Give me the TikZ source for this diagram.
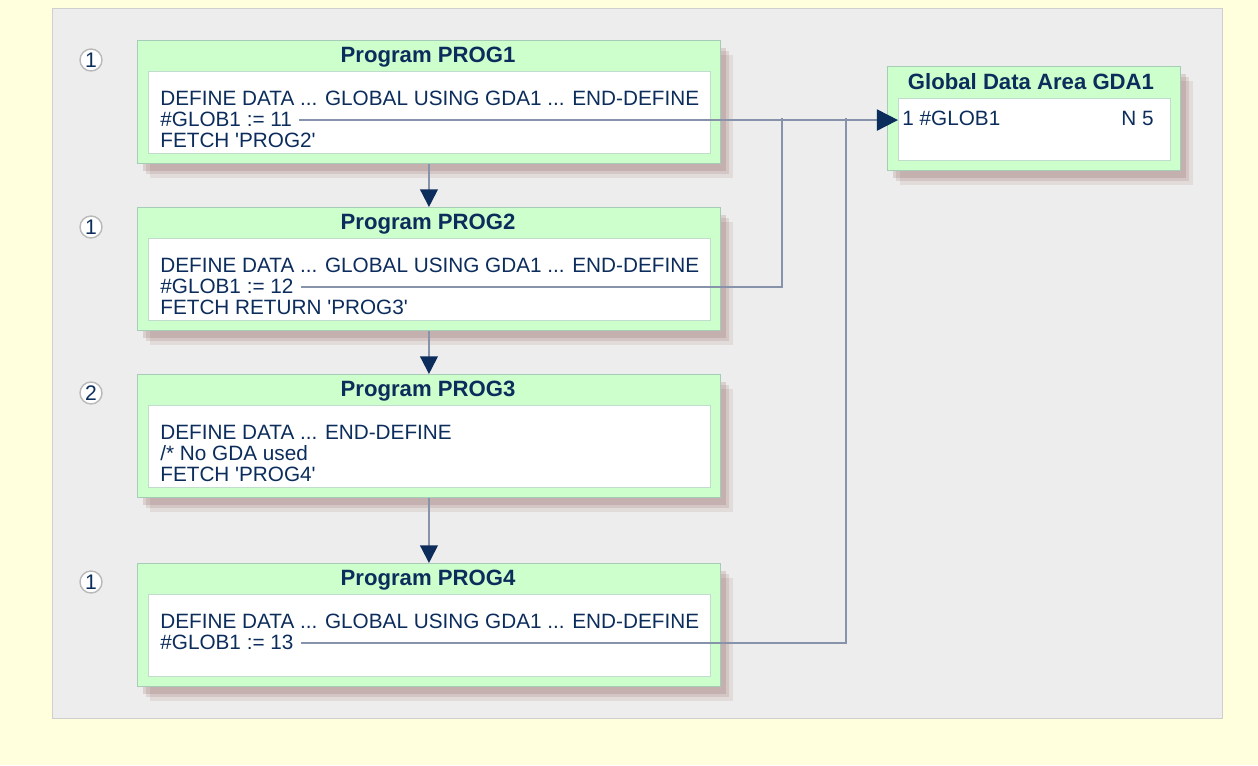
\documentclass[tikz,border=0pt]{standalone}
\usepackage{fontspec}
\setmainfont{Liberation Sans}
\usetikzlibrary{positioning}
\usetikzlibrary{arrows.meta}
\usetikzlibrary{shadows}

\definecolor{navy}{HTML}{0C2D5C}
\definecolor{boxgreen}{HTML}{CCFFCC}
\definecolor{boxedge}{HTML}{A6CCB8}
\definecolor{panelgray}{HTML}{EDEDED}
\definecolor{panelline}{HTML}{CFCFCF}
\definecolor{paper}{HTML}{FFFFDE}
\definecolor{wirecol}{HTML}{8793AB}
\definecolor{shadowc}{HTML}{7A4038}

\tikzset{
  progbox/.style={draw=boxedge, fill=boxgreen, line width=0.6pt, inner sep=0pt,
    anchor=north west, minimum width=11.66cm, minimum height=2.46cm,
    drop shadow={shadow xshift=7pt, shadow yshift=-8pt, fill=shadowc, opacity=0.1},
    drop shadow={shadow xshift=5pt, shadow yshift=-6pt, fill=shadowc, opacity=0.13},
    drop shadow={shadow xshift=3pt, shadow yshift=-4pt, fill=shadowc, opacity=0.16}},
  codebox/.style={draw=boxedge!70, fill=white, line width=0.6pt, inner sep=0pt,
    anchor=north west, minimum width=11.24cm, minimum height=1.64cm},
  title/.style={font=\bfseries\fontsize{12.6}{14}\selectfont, text=navy, inner sep=0pt},
  code/.style={font=\fontsize{11.8}{13}\selectfont, text=navy, inner sep=0pt,
    anchor=north west, text height=9.4pt, text depth=1.98pt},
  marker/.style={circle, draw=gray!55, fill=white, line width=0.8pt, inner sep=0pt,
    minimum size=0.44cm, text=navy, font=\fontsize{12}{13}\selectfont},
  wire/.style={draw=wirecol, line width=1.1pt},
  flow/.style={wire, -{Triangle[length=10pt, width=10pt, color=navy]}}
}

\begin{document}
\begin{tikzpicture}[x=0.02cm,y=-0.02cm]
% background
\fill[paper] (0,0) rectangle (1258,765);
\draw[panelline, fill=panelgray] (52,8) rectangle (1222,718);
\useasboundingbox (0,0) rectangle (1258,765);

% PROG1
\node[marker] (m1) at (91,60) {1};
\node[progbox] (prog1) at (137,40) {};
\node[codebox] (code1) at (148,71) {};
\node[title] (title1) at (428,57) {Program PROG1};
\node[code] (p1a) at (160,89) {DEFINE DATA ... GLOBAL USING GDA1 ... END-DEFINE};
\node[code, below=0pt of p1a.south west, anchor=north west] (p1b) {\#GLOB1 := 11};
\node[code, below=0pt of p1b.south west, anchor=north west] (p1c) {FETCH \textquotesingle PROG2\textquotesingle};

% PROG2
\node[marker] (m2) at (91,227) {1};
\node[progbox] (prog2) at (137,207) {};
\node[codebox] (code2) at (148,238) {};
\node[title] (title2) at (428,224) {Program PROG2};
\node[code] (p2a) at (160,256) {DEFINE DATA ... GLOBAL USING GDA1 ... END-DEFINE};
\node[code, below=0pt of p2a.south west, anchor=north west] (p2b) {\#GLOB1 := 12};
\node[code, below=0pt of p2b.south west, anchor=north west] (p2c) {FETCH RETURN \textquotesingle PROG3\textquotesingle};

% PROG3
\node[marker] (m3) at (91,393) {2};
\node[progbox] (prog3) at (137,374) {};
\node[codebox] (code3) at (148,405) {};
\node[title] (title3) at (428,391) {Program PROG3};
\node[code] (p3a) at (160,423) {DEFINE DATA ... END-DEFINE};
\node[code, below=0pt of p3a.south west, anchor=north west] (p3b) {/* No GDA used};
\node[code, below=0pt of p3b.south west, anchor=north west] (p3c) {FETCH \textquotesingle PROG4\textquotesingle};

% PROG4
\node[marker] (m4) at (91,582) {1};
\node[progbox] (prog4) at (137,563) {};
\node[codebox] (code4) at (148,594) {};
\node[title] (title4) at (428,580) {Program PROG4};
\node[code] (p4a) at (160,612) {DEFINE DATA ... GLOBAL USING GDA1 ... END-DEFINE};
\node[code, below=0pt of p4a.south west, anchor=north west] (p4b) {\#GLOB1 := 13};

% global data area
\node[progbox, minimum width=5.86cm, minimum height=2.08cm] (gda) at (887,66) {};
\node[codebox, minimum width=5.44cm, minimum height=1.24cm] (gdacode) at (898,98) {};
\node[title] (gdatitle) at (1031,82) {Global Data Area GDA1};
\node[code] (g1) at (902,109) {1 \#GLOB1};
\node[code, anchor=north east] (g2) at (1154,109) {N 5};

% program flow
\draw[flow] (prog1.south) -- (prog2.north);
\draw[flow] (prog2.south) -- (prog3.north);
\draw[flow] (prog3.south) -- (prog4.north);

% references to GDA1
\coordinate (join2) at (782,118);
\coordinate (join4) at (846,118);
\draw[wire, -{Triangle[length=12pt, width=12pt, color=navy]}] ([xshift=4pt]p1b.east) -- (p1b.east -| gdacode.west);
\draw[wire] ([xshift=4pt]p2b.east) -| (join2);
\draw[wire] ([xshift=4pt]p4b.east) -| (join4);
\end{tikzpicture}
\end{document}
